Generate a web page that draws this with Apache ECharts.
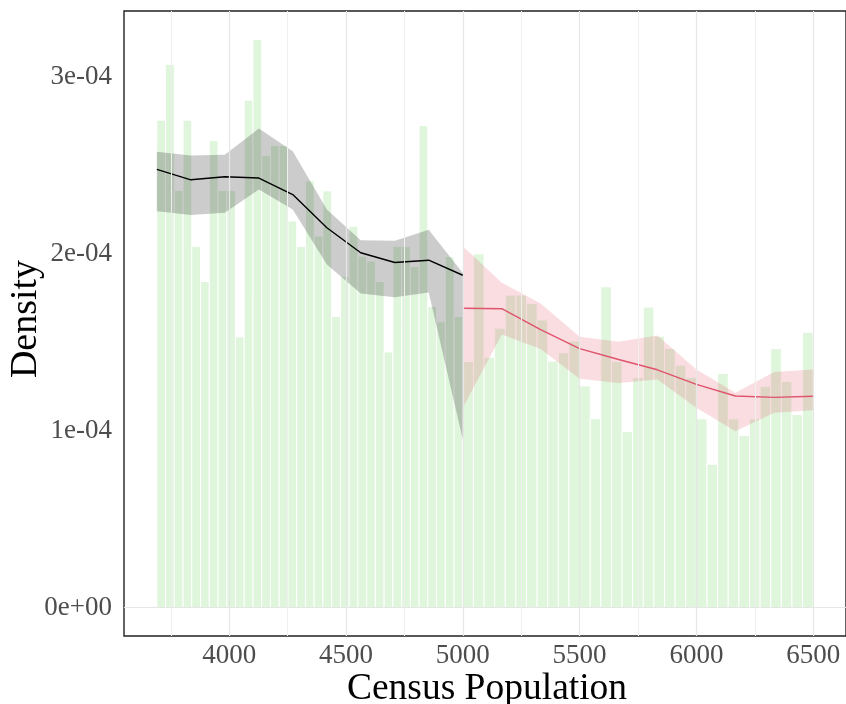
<!DOCTYPE html>
<html>
<head>
<meta charset="utf-8">
<script src="https://cdn.jsdelivr.net/npm/echarts@6/dist/echarts.min.js"></script>
<style>
  html, body { margin: 0; padding: 0; background: #ffffff; }
  #chart { width: 846px; height: 704px; }
</style>
</head>
<body>
<div id="chart"></div>
<script>
// Density values below are given in units of 1e-4.
const DENSITY_UNIT = 1e-4;

// Histogram: left of the cutoff (35 equal bins) and right of it (33 equal bins)
const leftBinRange = [3690, 5000];
const rightBinRange = [5000, 6500];
const leftHist = [2.753, 3.068, 2.356, 2.753, 2.040, 1.842, 2.638, 2.356, 2.356, 1.529,
                  2.866, 3.209, 2.554, 2.610, 2.610, 2.183, 2.040, 2.411, 2.098, 2.354,
                  1.644, 1.872, 2.154, 1.985, 1.957, 1.842, 1.444, 2.040, 2.040, 1.927,
                  2.723, 1.701, 1.614, 1.983, 1.644];
const rightHist = [1.390, 1.998, 1.414, 1.578, 1.765, 1.765, 1.718, 1.625, 1.392, 1.439,
                   1.505, 1.252, 1.066, 1.812, 1.390, 0.994, 1.300, 1.697, 1.533, 1.463,
                   1.369, 1.299, 1.066, 0.810, 1.322, 1.066, 0.972, 1.066, 1.250, 1.463,
                   1.277, 1.090, 1.555];

// Local density estimates with confidence bands
const leftX  = [3690, 3836, 3981, 4127, 4272, 4418, 4563, 4709, 4854, 5000];
const leftY  = [2.475, 2.416, 2.433, 2.426, 2.333, 2.145, 2.004, 1.949, 1.962, 1.877];
const leftHi = [2.575, 2.554, 2.557, 2.706, 2.578, 2.249, 2.075, 2.072, 2.134, 1.890];
const leftLo = [2.239, 2.217, 2.230, 2.362, 2.249, 1.938, 1.774, 1.753, 1.780, 0.949];

const rightX  = [5000, 5167, 5333, 5500, 5667, 5833, 6000, 6167, 6333, 6500];
const rightY  = [1.691, 1.688, 1.570, 1.463, 1.401, 1.343, 1.261, 1.195, 1.187, 1.194];
const rightHi = [2.041, 1.834, 1.718, 1.529, 1.501, 1.537, 1.345, 1.213, 1.330, 1.345];
const rightLo = [1.128, 1.542, 1.460, 1.293, 1.268, 1.288, 1.128, 0.996, 1.100, 1.115];

// Axis ticks
const xTicks = [4000, 4500, 5000, 5500, 6000, 6500];
const xMinorTicks = [3750, 4250, 4750, 5250, 5750, 6250];
const yTicks = [0, 1e-4, 2e-4, 3e-4];
const yMinorTicks = [0.5e-4, 1.5e-4, 2.5e-4];

const X_MIN = 3549.5, X_MAX = 6640.5;
const Y_MIN = -0.1605e-4, Y_MAX = 3.3695e-4;

const FONT = '"Liberation Serif", "DejaVu Serif", serif';
const HIST_FILL = 'rgba(97,208,79,0.2)';
const LEFT_COL = '#000000';
const RIGHT_COL = '#DF536B';

function binRects(range, heights) {
  const w = (range[1] - range[0]) / heights.length;
  return heights.map((h, i) => [range[0] + i * w, range[0] + (i + 1) * w, h * DENSITY_UNIT]);
}

function sciLabel(v) {
  const s = Number(v).toExponential(0);
  const m = s.match(/^(-?\d)e([+-])(\d+)$/);
  if (!m) return s;
  return m[1] + 'e' + m[2] + (m[3].length < 2 ? '0' + m[3] : m[3]);
}

function bandSeries(xs, lo, hi, color) {
  const pts = xs.map((x, i) => [x, lo[i] * DENSITY_UNIT, hi[i] * DENSITY_UNIT]);
  return {
    type: 'custom',
    z: 3,
    silent: true,
    data: pts,
    encode: { x: 0, y: [1, 2] },
    renderItem: function (params, api) {
      if (params.dataIndex !== 0) return null;
      const upper = pts.map(p => api.coord([p[0], p[2]]));
      const lower = pts.map(p => api.coord([p[0], p[1]])).reverse();
      return {
        type: 'polygon',
        shape: { points: upper.concat(lower) },
        style: { fill: color }
      };
    }
  };
}

const gridLineStyle = { color: '#e6e6e6', width: 1.2, type: 'solid' };
const minorLineStyle = { color: '#efefef', width: 1, type: 'solid' };

const chart = echarts.init(document.getElementById('chart'), null, { renderer: 'canvas' });

chart.setOption({
  animation: false,
  backgroundColor: '#ffffff',
  grid: {
    left: 124, top: 11, width: 724, height: 625,
    show: true, borderColor: '#222222', borderWidth: 1.4, backgroundColor: 'transparent'
  },
  xAxis: {
    type: 'value', min: X_MIN, max: X_MAX,
    axisLine: { show: false }, axisTick: { show: false }, splitLine: { show: false },
    axisLabel: {
      customValues: xTicks, color: '#4d4d4d', fontFamily: FONT, fontSize: 27, margin: 6,
      formatter: v => String(v)
    }
  },
  yAxis: {
    type: 'value', min: Y_MIN, max: Y_MAX,
    axisLine: { show: false }, axisTick: { show: false }, splitLine: { show: false },
    axisLabel: {
      customValues: yTicks, color: '#4d4d4d', fontFamily: FONT, fontSize: 27, margin: 12,
      formatter: sciLabel
    }
  },
  graphic: [
    {
      type: 'text', x: 487, y: 689,
      style: {
        text: 'Census Population', fill: '#000', font: '37.5px ' + FONT,
        align: 'center', verticalAlign: 'middle'
      }
    },
    {
      type: 'text', x: 26, y: 319, rotation: Math.PI / 2,
      style: {
        text: 'Density', fill: '#000', font: '38px ' + FONT,
        align: 'center', verticalAlign: 'middle'
      }
    }
  ],
  series: [
    {
      // panel grid lines
      type: 'line', data: [], z: 0, silent: true,
      markLine: {
        silent: true, symbol: 'none', label: { show: false }, animation: false,
        data: [
          ...xMinorTicks.map(v => ({ xAxis: v, lineStyle: minorLineStyle })),
          ...yMinorTicks.map(v => ({ yAxis: v, lineStyle: minorLineStyle })),
          ...xTicks.map(v => ({ xAxis: v, lineStyle: gridLineStyle })),
          ...yTicks.map(v => ({ yAxis: v, lineStyle: gridLineStyle }))
        ]
      }
    },
    {
      type: 'custom', z: 2, silent: true,
      data: binRects(leftBinRange, leftHist).concat(binRects(rightBinRange, rightHist)),
      encode: { x: [0, 1], y: 2 },
      renderItem: function (params, api) {
        const p0 = api.coord([api.value(0), 0]);
        const p1 = api.coord([api.value(1), api.value(2)]);
        return {
          type: 'rect',
          shape: { x: p0[0], y: p1[1], width: p1[0] - p0[0], height: p0[1] - p1[1] },
          style: { fill: HIST_FILL, stroke: '#ffffff', lineWidth: 1 }
        };
      }
    },
    bandSeries(leftX, leftLo, leftHi, 'rgba(0,0,0,0.2)'),
    bandSeries(rightX, rightLo, rightHi, 'rgba(223,83,107,0.2)'),
    {
      type: 'line', z: 4, silent: true, showSymbol: false, symbol: 'none',
      data: leftX.map((x, i) => [x, leftY[i] * DENSITY_UNIT]),
      lineStyle: { color: LEFT_COL, width: 1.4 }
    },
    {
      type: 'line', z: 4, silent: true, showSymbol: false, symbol: 'none',
      data: rightX.map((x, i) => [x, rightY[i] * DENSITY_UNIT]),
      lineStyle: { color: RIGHT_COL, width: 1.4 }
    }
  ]
});
</script>
</body>
</html>
